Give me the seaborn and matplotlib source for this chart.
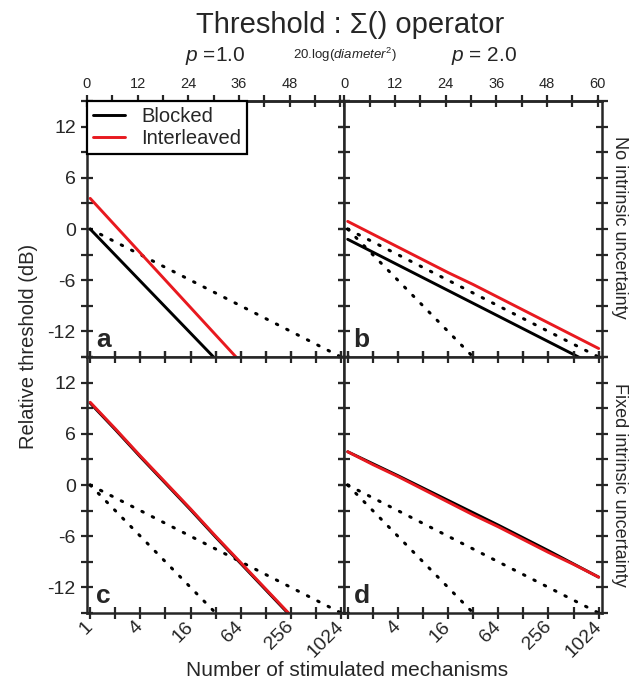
import numpy as np
import matplotlib
matplotlib.use("Agg")
import matplotlib.pyplot as plt
import seaborn as sns
from matplotlib.ticker import NullLocator

sns.set_style("ticks")
plt.rcParams["font.family"] = ["Liberation Sans", "DejaVu Sans"]
plt.rcParams["mathtext.fontset"] = "custom"
plt.rcParams["mathtext.rm"] = "Liberation Sans"
plt.rcParams["mathtext.it"] = "Liberation Sans:italic"

# number of stimulated mechanisms (x) and thresholds in dB
mechanisms = [1, 2, 4, 8, 16, 32, 64, 128, 256, 512, 1024]
bottom_labels = ["1", "", "4", "", "16", "", "64", "", "256", "", "1024"]
db_ticks = [0, 6, 12, 18, 24, 30, 36, 42, 48, 54, 60]
db_labels = ["0", "", "12", "", "24", "", "36", "", "48", "", "60"]
y_ticks = [-15, -12, -9, -6, -3, 0, 3, 6, 9, 12, 15]
y_labels = ["", "-12", "", "-6", "", "0", "", "6", "", "12", ""]

# reference slopes (dotted)
ref_shallow = [0.0, -1.5, -3.0, -4.5, -6.0, -7.5, -9.0, -10.5, -12.0, -13.5, -15.0]
ref_steep = [0.0, -3.0, -6.0, -9.0, -12.0, -15.0, -18.0, -21.0, -24.0, -27.0, -30.0]

a_blocked = [0.0, -3.05, -6.1, -9.15, -12.2, -15.25, -18.3, -21.35, -24.4, -27.45, -30.5]
a_interleaved = [3.6, 0.4, -2.8, -6.0, -9.2, -12.4, -15.6, -18.8, -22.0, -25.2, -28.4]
b_blocked = [-1.2, -2.7, -4.2, -5.7, -7.2, -8.7, -10.2, -11.7, -13.2, -14.7, -16.2]
b_interleaved = [0.9, -0.6, -2.1, -3.6, -5.1, -6.5, -8.0, -9.5, -11.0, -12.5, -14.0]
c_blocked = [9.6, 6.5, 3.3, 0.2, -2.9, -6.1, -9.2, -12.3, -15.4, -18.6, -21.7]
c_interleaved = [9.7, 6.6, 3.4, 0.3, -2.8, -6.0, -9.1, -12.2, -15.3, -18.5, -21.6]
d_blocked = [3.9, 2.5, 1.1, -0.35, -1.8, -3.25, -4.7, -6.2, -7.7, -9.25, -10.8]
d_interleaved = [3.9, 2.4, 1.0, -0.5, -2.0, -3.5, -4.9, -6.4, -7.9, -9.3, -10.8]

panels = {
    "a": (a_blocked, a_interleaved),
    "b": (b_blocked, b_interleaved),
    "c": (c_blocked, c_interleaved),
    "d": (d_blocked, d_interleaved),
}

fig = plt.figure(figsize=(6.39, 6.83), dpi=100)
axes = fig.subplots(2, 2)
fig.subplots_adjust(left=0.136, right=0.942, top=0.852, bottom=0.1025,
                    wspace=0, hspace=0)

dot_style = dict(color="black", linewidth=2.2, linestyle=(0, (0.5, 3.3)),
                 dash_capstyle="round")

for ax, letter in zip(axes.flat, "abcd"):
    blocked, interleaved = panels[letter]
    sns.lineplot(x=mechanisms, y=ref_shallow, ax=ax, **dot_style)
    # in panel a the steep reference lies under the blocked curve
    if letter != "a":
        sns.lineplot(x=mechanisms, y=ref_steep, ax=ax, **dot_style)
    sns.lineplot(x=mechanisms, y=blocked, ax=ax, color="black", linewidth=2.1,
                 label="Blocked" if letter == "a" else None)
    sns.lineplot(x=mechanisms, y=interleaved, ax=ax, color="#e8191f", linewidth=2.1,
                 label="Interleaved" if letter == "a" else None)

    ax.set_xscale("log", base=2)
    ax.set_xlim(2 ** -0.13, 2 ** 10.13)
    ax.set_ylim(-15, 15)
    ax.xaxis.set_minor_locator(NullLocator())
    ax.set_xticks(mechanisms)
    ax.set_yticks(y_ticks)
    top_row = letter in "ab"
    ax.tick_params(direction="inout", length=9, width=1.6, labelsize=14,
                   top=not top_row, right=True, bottom=True, left=True)
    for s in ax.spines.values():
        s.set_linewidth(1.8)

    if letter in "ac":
        ax.set_yticklabels(y_labels)
    else:
        ax.set_yticklabels([])

    if letter in "cd":
        labs = list(bottom_labels)
        if letter == "d":
            labs[0] = ""
        ax.set_xticklabels(labs, rotation=45, ha="right", va="center",
                           rotation_mode="anchor")
    else:
        ax.set_xticklabels([])

    if top_row:
        sec = ax.secondary_xaxis("top", functions=(lambda n: 20 * np.log10(n),
                                                   lambda db: 10 ** (db / 20)))
        sec.set_xticks(db_ticks)
        labs = list(db_labels)
        if letter == "a":
            labs[-1] = ""
        sec.set_xticklabels(labs)
        sec.xaxis.set_minor_locator(NullLocator())
        sec.tick_params(direction="inout", length=9, width=1.6, labelsize=10.5, pad=3)
        sec.spines["top"].set_linewidth(1.8)

    ax.text(0.035, 0.02, letter, transform=ax.transAxes, fontsize=19,
            fontweight="bold", ha="left", va="bottom")
    ax.set_xlabel("")
    ax.set_ylabel("")

leg = axes[0, 0].legend(loc="upper left", borderaxespad=0, fancybox=False,
                        fontsize=14.5, handlelength=1.6, handletextpad=0.8,
                        labelspacing=0.15, borderpad=0.3)
leg.get_frame().set_edgecolor("black")
leg.get_frame().set_linewidth(1.6)
leg.get_frame().set_alpha(1)

fig.text(0.548, 0.963, "Threshold : Σ() operator", fontsize=21, ha="center", va="center")
fig.text(0.336, 0.918, "$p$ =1.0", fontsize=15, ha="center", va="center")
fig.text(0.54, 0.92, "20.log($diameter^2$)", fontsize=9.5, ha="center", va="center")
fig.text(0.757, 0.918, "$p$ = 2.0", fontsize=15, ha="center", va="center")
fig.text(0.045, 0.493, "Relative threshold (dB)", fontsize=14.5, rotation=90,
         ha="center", va="center")
fig.text(0.543, 0.019, "Number of stimulated mechanisms", fontsize=15,
         ha="center", va="center")
fig.text(0.97, 0.667, "No intrinsic uncertainty", fontsize=13, rotation=270,
         ha="center", va="center")
fig.text(0.97, 0.29, "Fixed intrinsic uncertainty", fontsize=13, rotation=270,
         ha="center", va="center")

plt.savefig("out.png", dpi=100)
